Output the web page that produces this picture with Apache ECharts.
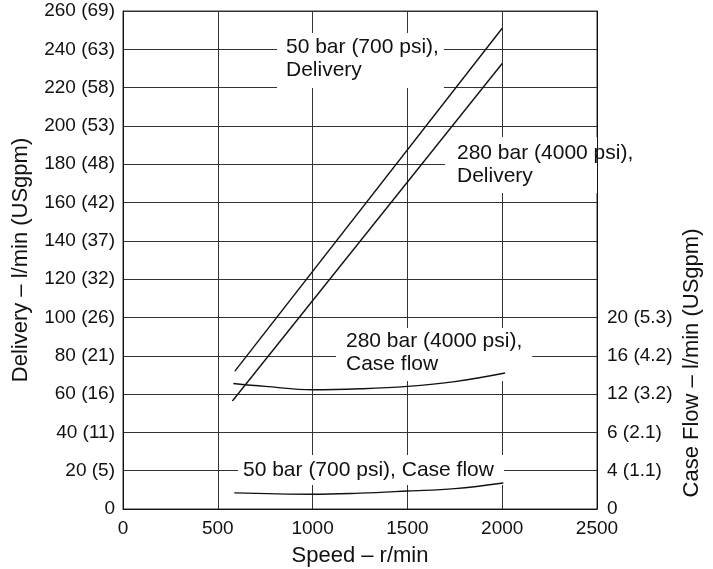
<!DOCTYPE html>
<html>
<head>
<meta charset="utf-8">
<script src="https://cdn.jsdelivr.net/npm/echarts@6/dist/echarts.min.js"></script>
<style>
html,body{margin:0;padding:0;background:#fff;}
#chart{width:713px;height:569px;}
</style>
</head>
<body>
<div id="chart"></div>
<script>
// ---- data ----
const xTicks = [0, 500, 1000, 1500, 2000, 2500];
const leftLabels = ['0', '20 (5)', '40 (11)', '60 (16)', '80 (21)', '100 (26)', '120 (32)', '140 (37)',
  '160 (42)', '180 (48)', '200 (53)', '220 (58)', '240 (63)', '260 (69)'];
const rightLabels = ['0', '4 (1.1)', '6 (2.1)', '12 (3.2)', '16 (4.2)', '20 (5.3)'];

// Delivery, l/min
const speedDel50 = [590, 2000];
const del50 = [72, 251];
const speedDel280 = [577, 2000];
const del280 = [56.4, 232.6];

// Case flow, l/min (right axis)
const speedCase280 = [582, 750, 1000, 1250, 1500, 1750, 2015];
const case280 = [13.1, 12.8, 12.45, 12.55, 12.8, 13.3, 14.2];
const speedCase50 = [587, 1000, 1250, 1500, 1750, 2006];
const case50 = [1.68, 1.54, 1.66, 1.88, 2.13, 2.72];

const annotations = [
  '50 bar (700 psi),\nDelivery',
  '280 bar (4000 psi),\nDelivery',
  '280 bar (4000 psi),\nCase flow',
  '50 bar (700 psi), Case flow'
];

const FONT = "'Liberation Sans', Arial, Helvetica, sans-serif";
const INK = '#111';
const GRIDC = '#333';

function pairs(xs, ys) { return xs.map((x, i) => [x, ys[i]]); }

const chart = echarts.init(document.getElementById('chart'), null, { renderer: 'canvas' });

const lineStyle = { color: INK, width: 1.4 };

function annot(text, x, y, padding, lh) {
  return {
    type: 'text', x: x, y: y, z: 5,
    style: {
      text: text, fill: INK, fontFamily: FONT, fontSize: 21, lineHeight: lh,
      backgroundColor: '#fff', padding: padding, align: 'left', verticalAlign: 'top'
    }
  };
}

chart.setOption({
  animation: false,
  backgroundColor: '#fff',
  textStyle: { fontFamily: FONT, color: INK },
  grid: { left: 123, right: 116, top: 11, bottom: 60, containLabel: false, outerBoundsMode: 'none',
    show: true, borderColor: GRIDC, borderWidth: 1, backgroundColor: 'transparent' },
  xAxis: {
    type: 'value', min: xTicks[0], max: xTicks[xTicks.length - 1], interval: 500,
    name: 'Speed – r/min', nameLocation: 'middle', nameGap: 36,
    nameTextStyle: { fontSize: 22, color: INK, fontFamily: FONT },
    axisLine: { show: true, lineStyle: { color: INK, width: 1 } },
    axisTick: { show: false },
    axisLabel: { fontSize: 19, color: INK, margin: 10, fontFamily: FONT, formatter: v => String(v) },
    splitLine: { show: true, lineStyle: { color: GRIDC, width: 1 } }
  },
  yAxis: [
    {
      type: 'value', min: 0, max: 260, interval: 20, position: 'left',
      name: 'Delivery – l/min (USgpm)', nameLocation: 'middle', nameGap: 91,
      nameTextStyle: { fontSize: 22, color: INK, fontFamily: FONT },
      axisLine: { show: true, lineStyle: { color: INK, width: 1 } },
      axisTick: { show: false },
      axisLabel: { fontSize: 19, color: INK, margin: 8, fontFamily: FONT,
        formatter: v => leftLabels[Math.round(v / 20)] || '' },
      splitLine: { show: true, lineStyle: { color: GRIDC, width: 1 } }
    },
    {
      type: 'value', min: 0, max: 52, interval: 4, position: 'right', z: 10,
      axisLine: { show: true, onZero: false, lineStyle: { color: INK, width: 1 } },
      axisTick: { show: false },
      axisLabel: { fontSize: 19, color: INK, margin: 10, fontFamily: FONT,
        formatter: v => { const i = Math.round(v / 4); return i < rightLabels.length ? rightLabels[i] : ''; } },
      splitLine: { show: false }
    }
  ],
  graphic: [
    annot(annotations[0], 277, 33, [3, 5, 6, 9], 23),
    annot(annotations[1], 445, 137, [5, 8, 5, 12], 23),
    annot(annotations[2], 336, 328, [2, 10, 5, 10], 23),
    annot(annotations[3], 238, 455, [4, 10, 4, 5], 22),
    {
      type: 'text', x: 692, y: 363, rotation: Math.PI / 2, z: 5,
      style: { text: 'Case Flow – l/min (USgpm)', fill: INK, fontFamily: FONT, fontSize: 22,
        align: 'center', verticalAlign: 'middle' }
    }
  ],
  series: [
    { name: '50 bar Delivery', type: 'line', yAxisIndex: 0, data: pairs(speedDel50, del50),
      showSymbol: false, lineStyle: lineStyle, z: 7 },
    { name: '280 bar Delivery', type: 'line', yAxisIndex: 0, data: pairs(speedDel280, del280),
      showSymbol: false, lineStyle: lineStyle, z: 7 },
    { name: '280 bar Case flow', type: 'line', yAxisIndex: 1, data: pairs(speedCase280, case280),
      smooth: 0.4, showSymbol: false, lineStyle: lineStyle, z: 7 },
    { name: '50 bar Case flow', type: 'line', yAxisIndex: 1, data: pairs(speedCase50, case50),
      smooth: 0.4, showSymbol: false, lineStyle: lineStyle, z: 7 }
  ]
});
</script>
</body>
</html>
